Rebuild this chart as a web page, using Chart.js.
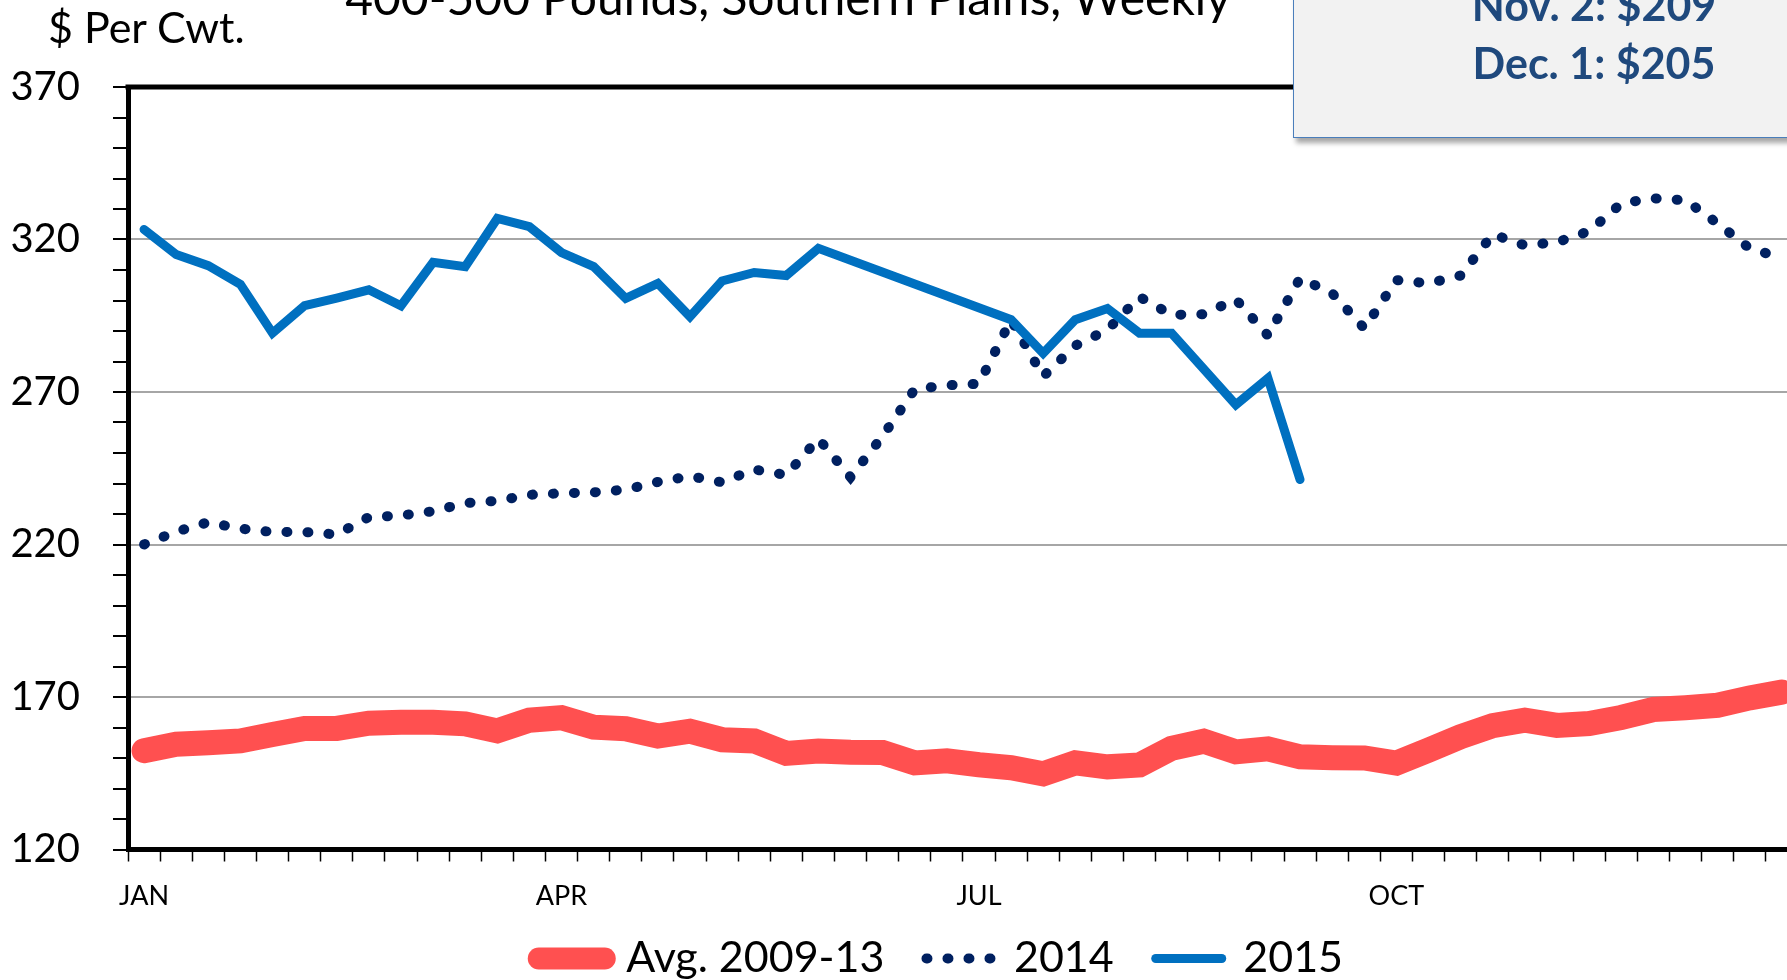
<!DOCTYPE html>
<html>
<head>
<meta charset="utf-8">
<script src="https://cdn.jsdelivr.net/npm/chart.js"></script>
<style>
  html, body { margin: 0; padding: 0; overflow: hidden; background: #fff; }
  body { width: 1787px; height: 980px; position: relative; font-family: Lato, sans-serif; }
  #wrap { position: absolute; left: 0; top: 0; width: 1869px; height: 990px; }
  .txt { position: absolute; white-space: nowrap; color: #000; }
  #title { left: 0; width: 1576px; text-align: center; top: -27px; font-size: 48px; line-height: 48px; }
  #unit { left: 48px; top: 5px; font-size: 43px; line-height: 43px; }
  #note { position: absolute; left: 1293px; top: -60px; width: 600px; height: 198px;
          background: #f2f2f2; border: 1.5px solid #4a7ebb; box-sizing: border-box;
          box-shadow: 3px 5px 5px rgba(0,0,0,0.35); }
  .noteLine { position: absolute; left: 0; width: 600px; text-align: center; font-weight: bold;
              font-size: 43px; line-height: 43px; color: #1f497d; }
</style>
</head>
<body>
<div id="wrap"><canvas id="chart"></canvas></div>
<div class="txt" id="title">400-500 Pounds, Southern Plains, Weekly</div>
<div class="txt" id="unit">$ Per Cwt.</div>
<div id="note">
  <div class="noteLine" style="top:42px">Nov. 2: $209</div>
  <div class="noteLine" style="top:100px">Dec. 1: $205</div>
</div>
<script>
// weekly categories, Jan through Dec
const weeks = [1, 2, 3, 4, 5, 6, 7, 8, 9, 10, 11, 12, 13, 14, 15, 16, 17, 18, 19, 20, 21, 22, 23, 24, 25, 26,
               27, 28, 29, 30, 31, 32, 33, 34, 35, 36, 37, 38, 39, 40, 41, 42, 43, 44, 45, 46, 47, 48, 49, 50, 51, 52];
const monthLabels = ['JAN', 'APR', 'JUL', 'OCT'];
const monthWeeks = [1, 14, 27, 40];

const avg2009to13 = [152.4, 154.5, 155.0, 155.6, 157.7, 159.7, 159.7, 161.4, 161.7, 161.7, 161.2, 158.9, 162.4,
                     163.2, 160.1, 159.6, 157.2, 158.8, 156.0, 155.6, 151.5, 152.3, 151.9, 151.8, 148.4, 149.1,
                     147.8, 146.8, 144.8, 148.4, 147.1, 147.7, 153.2, 155.5, 152.0, 153.0, 150.4, 150.1, 150.0,
                     148.3, 152.6, 157.0, 160.6, 162.4, 160.7, 161.3, 163.3, 165.9, 166.5, 167.3, 169.7, 171.6];

const prices2014 = [220.0, 224.2, 227.3, 225.2, 224.1, 224.1, 223.3, 229.0, 229.5, 230.9, 233.6, 234.3, 236.3,
                    236.8, 237.1, 238.0, 240.5, 242.4, 240.4, 244.6, 242.8, 254.7, 242.1, 255.5, 270.9, 272.2,
                    272.7, 293.7, 275.1, 285.2, 290.4, 301.2, 295.3, 295.5, 300.4, 288.5, 307.3, 302.4, 290.9,
                    306.7, 305.6, 308.2, 321.7, 318.1, 319.1, 322.7, 331.8, 333.5, 332.9, 325.3, 317.1, 314.0];

const prices2015 = [323.3, 315.1, 311.4, 305.3, 289.3, 298.3, 300.8, 303.5, 298.3, 312.5, 311.1, 326.9, 324.2,
                    315.7, 311.1, 300.7, 305.6, 294.7, 306.4, 309.2, 308.2, 317.1, null, null, null, null,
                    null, 293.7, 282.7, 293.7, 297.4, 289.3, 289.3, null, 265.8, 274.5, 241.3, null, null,
                    null, null, null, null, null, null, null, null, null, null, null, null, null];

Chart.defaults.font.family = 'Lato';
Chart.defaults.color = '#000';

// top edge of the plot frame
const topBorder = {
    id: 'topBorder',
    afterDraw(chart) {
        const {ctx, chartArea} = chart;
        ctx.save();
        ctx.fillStyle = '#000';
        ctx.fillRect(chartArea.left - 2.5, chartArea.top - 2.5, chartArea.right - chartArea.left + 5, 5);
        ctx.restore();
    }
};

// legend samples drawn like the series lines (round caps, dots for 2014)
const nb = '\u00a0';
function legendItems(chart) {
    const items = Chart.defaults.plugins.legend.labels.generateLabels(chart);
    return items.map((item) => {
        const ds = chart.data.datasets[item.datasetIndex];
        item.lineCap = 'round';
        item.lineDash = ds.borderDash || [];
        item.lineWidth = item.datasetIndex === 0 ? 22 : ds.borderWidth;
        item.strokeStyle = ds.borderColor;
        item.text += item.datasetIndex < 2 ? nb + nb : nb + nb + nb + nb;
        return item;
    });
}

const ctx = document.getElementById('chart').getContext('2d');
const chart = new Chart(ctx, {
    type: 'line',
    data: {
        labels: weeks,
        datasets: [{
            label: 'Avg. 2009-13',
            data: avg2009to13,
            borderColor: '#ff5050',
            backgroundColor: '#ff5050',
            borderWidth: 25,
            borderCapStyle: 'round',
            order: 2
        }, {
            label: '2014',
            data: prices2014,
            borderColor: '#002060',
            backgroundColor: '#002060',
            borderWidth: 10,
            borderCapStyle: 'round',
            borderDash: [1, 20],
            order: 1
        }, {
            label: '2015',
            data: prices2015,
            borderColor: '#0070c0',
            backgroundColor: '#0070c0',
            borderWidth: 9,
            borderCapStyle: 'round',
            spanGaps: true,
            order: 0
        }]
    },
    options: {
        responsive: true,
        maintainAspectRatio: false,
        animation: false,
        elements: {
            point: { radius: 0, hoverRadius: 0 },
            line: { tension: 0 }
        },
        layout: { padding: { top: 87, left: 0, right: 71.2, bottom: 0 } },
        plugins: {
            tooltip: { enabled: false },
            legend: {
                position: 'bottom',
                fullSize: false,
                labels: {
                    usePointStyle: true,
                    pointStyle: 'line',
                    pointStyleWidth: 66,
                    padding: 20,
                    font: { size: 43 },
                    color: '#000',
                    generateLabels: legendItems,
                    sort: (a, b) => a.datasetIndex - b.datasetIndex
                }
            }
        },
        scales: {
            x: {
                offset: true,
                afterFit: (s) => { s.height = 67.5; },
                grid: {
                    offset: true,
                    drawOnChartArea: false,
                    tickLength: 12,
                    tickWidth: 1.5,
                    tickColor: '#000'
                },
                border: { color: '#000', width: 5 },
                ticks: {
                    autoSkip: false,
                    maxRotation: 0,
                    padding: 18.5,
                    font: { size: 27 },
                    callback: (value, index) => {
                        const k = monthWeeks.indexOf(weeks[index]);
                        return k >= 0 ? monthLabels[k] : '';
                    }
                }
            },
            y: {
                min: 120,
                max: 370,
                afterFit: (s) => { s.width = 128; },
                grid: {
                    color: (c) => {
                        const v = c.tick ? c.tick.value : 0;
                        return (v > 120 && v < 370 && (v - 120) % 50 === 0) ? '#a6a6a6' : 'rgba(0,0,0,0)';
                    },
                    lineWidth: 2,
                    tickColor: '#000',
                    tickLength: 15,
                    tickWidth: 2
                },
                border: { color: '#000', width: 5 },
                ticks: {
                    stepSize: 10,
                    autoSkip: false,
                    padding: 33,
                    font: { size: 40 },
                    callback: (v) => ((v - 120) % 50 === 0 ? v : '')
                }
            }
        }
    },
    plugins: [topBorder]
});
</script>
</body>
</html>
